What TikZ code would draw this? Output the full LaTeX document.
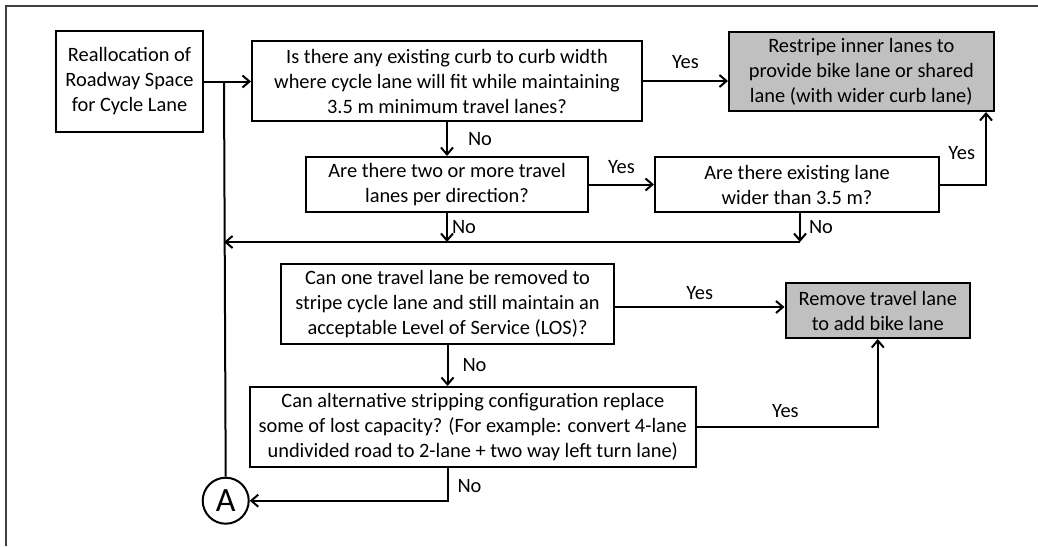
\documentclass[tikz,border=0pt]{standalone}
\usepackage{fontspec}
\setmainfont{Carlito}
\usetikzlibrary{arrows.meta}

\begin{document}
\begin{tikzpicture}[x=1pt, y=-1pt,
    every node/.style={font=\fontsize{20.4}{25}\selectfont},
    box/.style={draw=borderColour, line width=2pt, align=center, inner sep=0pt},
    result/.style={box, fill=fillColourR},
    flow/.style={line width=2pt, -{Straight Barb[length=7pt,width=12pt]}},
    link/.style={line width=2pt},
    answer/.style={inner sep=0pt}]

    \definecolor{borderColour}{HTML}{000000}
    \definecolor{frameColour}{HTML}{404040}
    \definecolor{fillColourR}{HTML}{C0C0C0}

    \useasboundingbox (0,0) rectangle (1038,546);

    % Draw frame
    \draw[frameColour, line width=2pt] (6,546) -- (6,6) -- (1038,6);

    % Boxes
    \node[box, minimum width=147pt, minimum height=101pt] (start) at (129.5,81.5)
        {Reallocation of\\Roadway Space\\for Cycle Lane};
    \node[box, minimum width=390pt, minimum height=80pt] (curb) at (447,81)
        {Is there any existing curb to curb width\\where cycle lane will fit while maintaining\\3.5 m minimum travel lanes?};
    \node[result, minimum width=264.5pt, minimum height=79pt] (restripe) at (861.25,71.5)
        {Restripe inner lanes to\\provide bike lane or shared\\lane (with wider curb lane)};
    \node[box, minimum width=282pt, minimum height=55pt] (twoLanes) at (447,184.5)
        {Are there two or more travel\\lanes per direction?};
    \node[box, minimum width=284pt, minimum height=55pt] (wideLane) at (797,184.5)
        {Are there existing lane\\wider than 3.5 m?};
    \node[box, minimum width=333pt, minimum height=80pt] (removeQ) at (447.5,304)
        {Can one travel lane be removed to\\stripe cycle lane and still maintain an\\acceptable Level of Service (LOS)?};
    \node[result, minimum width=184.5pt, minimum height=55pt] (remove) at (877.75,310.5)
        {Remove travel lane\\to add bike lane};
    \node[box, minimum width=445.6pt, minimum height=80pt] (altQ) at (472.8,427)
        {Can alternative stripping configuration replace\\some of lost capacity? (For example: convert 4-lane\\undivided road to 2-lane + two way left turn lane)};

    % Connector A
    \node[circle, draw=borderColour, line width=2pt, minimum size=46pt, inner sep=0pt,
        font=\fontsize{34}{40}\selectfont] (A) at (225.7,500.7) {A};

    % Branch points
    \coordinate (join) at (224,82);
    \coordinate (merge) at (800,242);

    % Draw connectors
    \draw[flow] (start.east) -- (start.east -| curb.west);
    \draw[link] (join) -- (A.north);
    \draw[flow] (curb.east) -- (curb.east -| restripe.west) node[midway, answer, above=11.5pt] {Yes};
    \draw[flow] (curb.south) -- (twoLanes.north) node[midway, answer, right=20pt] {No};
    \draw[flow] (twoLanes.east) -- (wideLane.west) node[midway, answer, above=9.5pt] {Yes};
    \draw[flow] (wideLane.east) -| ([xshift=-8.5pt]restripe.south east) node[pos=0.715, answer, left=10pt] {Yes};
    \draw[flow] (twoLanes.south) -- (twoLanes.south |- merge) node[midway, answer, right=4pt] {No};
    \draw[flow] (wideLane.south -| merge) -- (merge) node[midway, answer, right=8pt] {No};
    \draw[flow] (merge) -- (merge -| join);
    \draw[flow] ([yshift=-3pt]removeQ.east) -- ([yshift=3.5pt]remove.west) node[midway, answer, above=6.5pt] {Yes};
    \draw[flow] (removeQ.south) -- (removeQ.south |- altQ.north) node[midway, answer, right=14pt] {No};
    \draw[flow] (altQ.east) -| (remove.south) node[pos=0.245, answer, above=8.5pt] {Yes};
    \draw[flow] (altQ.south -| removeQ.south) |- (A.east) node[pos=0.27, answer, right=9pt] {No};

\end{tikzpicture}
\end{document}
